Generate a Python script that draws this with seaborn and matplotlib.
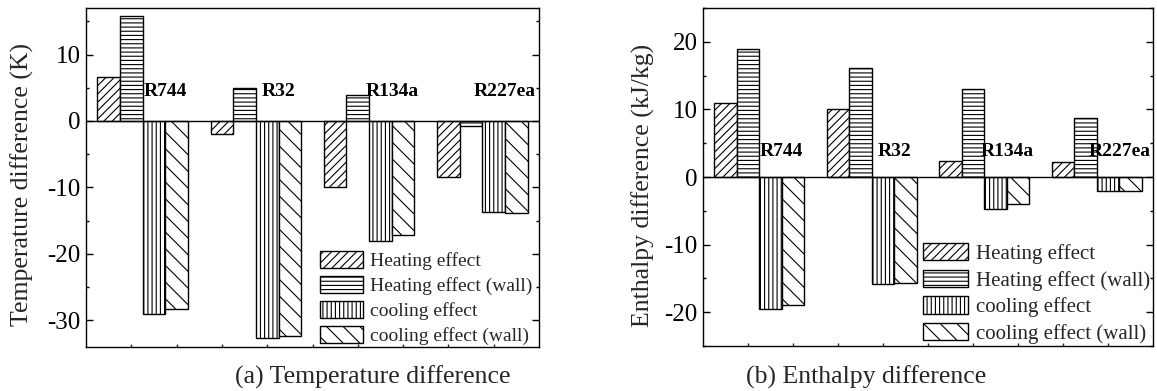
import numpy as np
import pandas as pd
import matplotlib
matplotlib.use("Agg")
import matplotlib.pyplot as plt
import seaborn as sns
from matplotlib.ticker import MultipleLocator

# ---------------- data ----------------
refrigerants = ["R744", "R32", "R134a", "R227ea"]
series = ["Heating effect", "Heating effect (wall)", "cooling effect", "cooling effect (wall)"]

temp_heating = [6.6, -2.0, -9.9, -8.5]
temp_heating_wall = [15.8, 4.9, 3.9, -0.75]
temp_cooling = [-29.1, -32.6, -18.1, -13.7]
temp_cooling_wall = [-28.3, -32.3, -17.2, -13.8]

enth_heating = [10.9, 10.1, 2.3, 2.2]
enth_heating_wall = [18.9, 16.1, 13.0, 8.8]
enth_cooling = [-19.6, -15.9, -4.8, -2.1]
enth_cooling_wall = [-19.0, -15.7, -4.0, -2.1]

hatches = ["////", "----", "||||", "\\\\"]


def long_df(a, b, c, d):
    rows = []
    for s, vals in zip(series, [a, b, c, d]):
        for r, v in zip(refrigerants, vals):
            rows.append({"Refrigerant": r, "Series": s, "value": v})
    return pd.DataFrame(rows)


df_temp = long_df(temp_heating, temp_heating_wall, temp_cooling, temp_cooling_wall)
df_enth = long_df(enth_heating, enth_heating_wall, enth_cooling, enth_cooling_wall)

# ---------------- style ----------------
sns.set_theme(style="ticks")
plt.rcParams["font.family"] = ["Liberation Serif", "DejaVu Serif"]
plt.rcParams["axes.unicode_minus"] = False
plt.rcParams["hatch.linewidth"] = 0.8
plt.rcParams["hatch.color"] = "black"

W, H = 1157, 391
fig = plt.figure(figsize=(W / 100, H / 100), dpi=100)


def px_axes(x0, y0, x1, y1):
    return fig.add_axes([x0 / W, 1 - y1 / H, (x1 - x0) / W, (y1 - y0) / H])


ax1 = px_axes(86, 8, 539, 347)
ax2 = px_axes(703, 8, 1153, 346)


def draw(ax, df, ylim, label_y, leg_fs, leg_anchor, handlelen, lspace):
    sns.barplot(data=df, x="Refrigerant", y="value", hue="Series",
                order=refrigerants, hue_order=series,
                palette=["white"] * 4, edgecolor="black", linewidth=1.0,
                errorbar=None, width=0.8, saturation=1, ax=ax, legend=False)
    for cont, h in zip(ax.containers, hatches):
        for p in cont.patches:
            p.set_hatch(h)
            p.set_facecolor("white")
            p.set_edgecolor("black")
    ax.axhline(0, color="black", lw=1.0, zorder=3)
    ax.set_xlim(-0.5, 3.5)
    ax.set_ylim(*ylim)
    ax.set_xlabel("")
    ax.set_ylabel("")
    ax.set_xticks(np.arange(-0.1, 3.4, 0.4))
    ax.set_xticklabels([])
    ax.yaxis.set_major_locator(MultipleLocator(10))
    ax.yaxis.set_minor_locator(MultipleLocator(5))
    for sp in ax.spines.values():
        sp.set_visible(True)
        sp.set_color("black")
        sp.set_linewidth(1.0)
    ax.tick_params(axis="y", which="both", direction="in", left=True, right=True,
                   labelsize=18, pad=4, colors="black")
    ax.tick_params(axis="y", which="major", length=5, width=1)
    ax.tick_params(axis="y", which="minor", length=2.5, width=1)
    ax.tick_params(axis="x", which="both", direction="in", length=2.5, width=1, bottom=True, top=False)
    for i, r in enumerate(refrigerants):
        ax.text(i + 0.2, label_y, r, ha="center", va="center",
                fontsize=14, fontweight="bold", color="black", zorder=4)
    ax.legend(handles=list(ax.containers), labels=series, loc="lower right",
              bbox_to_anchor=leg_anchor, frameon=False, fontsize=leg_fs,
              handlelength=handlelen, handleheight=0.9, handletextpad=0.35,
              labelspacing=lspace, borderpad=0, borderaxespad=0)


draw(ax1, df_temp, (-34, 17), 4.5, 14, (0.985, 0.005), 2.2, 0.32)
draw(ax2, df_enth, (-25, 25), 3.7, 15, (0.993, 0.006), 2.2, 0.28)

fig.text(22 / W, 1 - 185 / H, "Temperature difference (K)", rotation=90,
         ha="center", va="center", fontsize=18.5)
fig.text(643 / W, 1 - 185 / H, "Enthalpy difference (kJ/kg)", rotation=90,
         ha="center", va="center", fontsize=18.5)
fig.text(373 / W, 1 - 377 / H, "(a) Temperature difference",
         ha="center", va="center", fontsize=18.5)
fig.text(866 / W, 1 - 377 / H, "(b) Enthalpy difference",
         ha="center", va="center", fontsize=18.5)

fig.savefig("out.png", dpi=100)
